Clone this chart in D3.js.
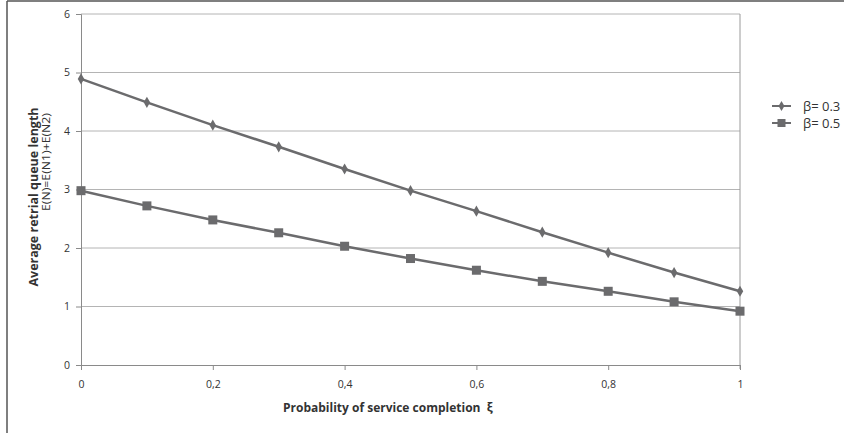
<!DOCTYPE html>
<html>
<head>
<meta charset="utf-8">
<script src="https://cdn.jsdelivr.net/npm/d3@7"></script>
<style>
  html, body { margin: 0; padding: 0; background: #fff; }
  svg { display: block; }
</style>
</head>
<body>
<svg id="chart" width="844" height="433"></svg>
<script>
const xValues = [0, 0.1, 0.2, 0.3, 0.4, 0.5, 0.6, 0.7, 0.8, 0.9, 1];
const beta03 = [4.89, 4.49, 4.10, 3.73, 3.35, 2.98, 2.63, 2.27, 1.92, 1.58, 1.26];
const beta05 = [2.98, 2.72, 2.48, 2.26, 2.03, 1.82, 1.62, 1.43, 1.26, 1.08, 0.92];
const seriesNames = ["\u03B2= 0.3", "\u03B2= 0.5"];
const xTicks = [0, 0.2, 0.4, 0.6, 0.8, 1];
const xTickLabels = ["0", "0,2", "0,4", "0,6", "0,8", "1"];
const yTicks = [0, 1, 2, 3, 4, 5, 6];
const yTickLabels = ["0", "1", "2", "3", "4", "5", "6"];
const xTitle = "Probability of service completion  \u03BE";
const yTitle = "Average retrial queue length";
const ySubTitle = "E(N)=E(N1)+E(N2)";

const svg = d3.select("#chart");
const font = "'Open Sans', 'Liberation Sans', sans-serif";
const lineColor = "#6b6b6d";

const x = d3.scaleLinear().domain([0, 1]).range([81, 740]);
const y = d3.scaleLinear().domain([0, 6]).range([365, 14]);

// outer frame (top and left)
svg.append("line").attr("x1", 7).attr("x2", 844).attr("y1", 1).attr("y2", 1)
  .attr("stroke", "#555").attr("stroke-width", 1.5);
svg.append("line").attr("x1", 7).attr("x2", 7).attr("y1", 1).attr("y2", 433)
  .attr("stroke", "#555").attr("stroke-width", 1.5);

// gridlines
svg.append("g").selectAll("line").data(yTicks.filter(d => d > 0)).join("line")
  .attr("x1", x(0)).attr("x2", x(1))
  .attr("y1", d => y(d)).attr("y2", d => y(d))
  .attr("stroke", "#b4b4b4").attr("stroke-width", 1);

// right vertical line
svg.append("line").attr("x1", x(1)).attr("x2", x(1)).attr("y1", y(6)).attr("y2", y(0) + 4)
  .attr("stroke", "#9a9a9a").attr("stroke-width", 1);

// x axis
const xAxis = d3.axisBottom(x).tickValues(xTicks)
  .tickFormat((d, i) => xTickLabels[i]).tickSize(5).tickPadding(11);
const gx = svg.append("g").attr("transform", `translate(0,${y(0)})`).call(xAxis);
gx.select(".domain").attr("stroke", "#8a8a8a");
gx.selectAll(".tick line").attr("stroke", "#8a8a8a");
gx.selectAll("text").attr("font-family", font).attr("font-size", 10.5).attr("fill", "#333");

// y axis
const yAxis = d3.axisLeft(y).tickValues(yTicks)
  .tickFormat((d, i) => yTickLabels[i]).tickSize(5).tickPadding(6);
const gy = svg.append("g").attr("transform", `translate(${x(0)},0)`).call(yAxis);
gy.select(".domain").attr("stroke", "#8a8a8a");
gy.selectAll(".tick line").attr("stroke", "#8a8a8a");
gy.selectAll("text").attr("font-family", font).attr("font-size", 10.5).attr("fill", "#333");

// lines
const series = [beta03, beta05];
const lineGen = d3.line().x((d, i) => x(xValues[i])).y(d => y(d));
series.forEach(s => {
  svg.append("path").datum(s).attr("d", lineGen)
    .attr("fill", "none").attr("stroke", lineColor).attr("stroke-width", 2.5);
});

// markers
svg.append("g").selectAll("path").data(beta03).join("path")
  .attr("d", d3.symbol().type(d3.symbolDiamond).size(36))
  .attr("transform", (d, i) => `translate(${x(xValues[i])},${y(d)})`)
  .attr("fill", lineColor);
svg.append("g").selectAll("rect").data(beta05).join("rect")
  .attr("x", (d, i) => x(xValues[i]) - 4.5).attr("y", d => y(d) - 4.5)
  .attr("width", 9).attr("height", 9)
  .attr("fill", lineColor);

// legend
const legendY = [106, 123];
const lg = svg.append("g");
seriesNames.forEach((name, i) => {
  lg.append("line").attr("x1", 772).attr("x2", 791)
    .attr("y1", legendY[i]).attr("y2", legendY[i])
    .attr("stroke", lineColor).attr("stroke-width", 2);
  if (i === 0) {
    lg.append("path").attr("d", d3.symbol().type(d3.symbolDiamond).size(30))
      .attr("transform", `translate(781.5,${legendY[i]})`).attr("fill", lineColor);
  } else {
    lg.append("rect").attr("x", 777.5).attr("y", legendY[i] - 4)
      .attr("width", 8).attr("height", 8).attr("fill", lineColor);
  }
  lg.append("text").attr("x", 803).attr("y", legendY[i]).attr("dy", "0.35em")
    .attr("font-family", font).attr("font-size", 13).attr("fill", "#333")
    .text(name);
});

// x title
svg.append("text").attr("x", 283).attr("y", 412)
  .attr("font-family", font).attr("font-size", 12).attr("font-weight", "bold")
  .attr("fill", "#333").attr("xml:space", "preserve").style("white-space", "pre")
  .text(xTitle);

// y title
svg.append("text").attr("transform", "translate(38,197) rotate(-90)")
  .attr("text-anchor", "middle")
  .attr("font-family", font).attr("font-size", 12.5).attr("font-weight", "bold")
  .attr("fill", "#333").text(yTitle);
svg.append("text").attr("transform", "translate(50,113) rotate(-90)")
  .attr("text-anchor", "end")
  .attr("font-family", font).attr("font-size", 10)
  .attr("textLength", 98).attr("lengthAdjust", "spacingAndGlyphs")
  .attr("fill", "#333").text(ySubTitle);
</script>
</body>
</html>
